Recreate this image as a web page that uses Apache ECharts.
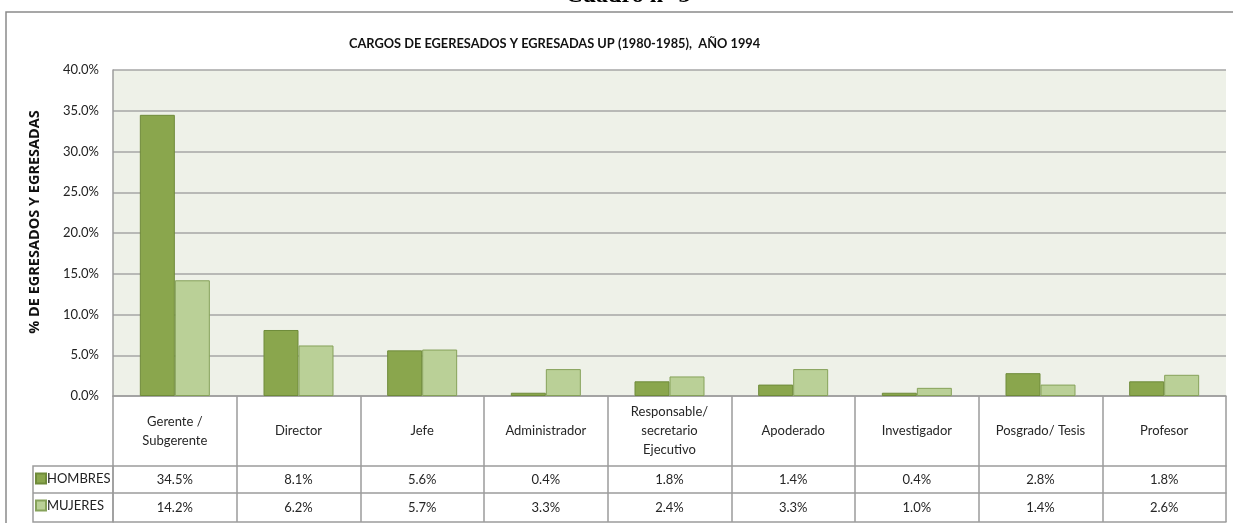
<!DOCTYPE html>
<html>
<head>
<meta charset="utf-8">
<script src="https://cdn.jsdelivr.net/npm/echarts@6/dist/echarts.min.js"></script>
<style>
  html, body { margin: 0; padding: 0; background: #fff; }
  #chart { width: 1233px; height: 523px; }
</style>
</head>
<body>
<div id="chart"></div>
<script>
// datos del cuadro
var categorias = ['Gerente /\nSubgerente', 'Director', 'Jefe', 'Administrador',
  'Responsable/\nsecretario\nEjecutivo', 'Apoderado', 'Investigador', 'Posgrado/ Tesis', 'Profesor'];
var hombres = [34.5, 8.1, 5.6, 0.4, 1.8, 1.4, 0.4, 2.8, 1.8];
var mujeres = [14.2, 6.2, 5.7, 3.3, 2.4, 3.3, 1.0, 1.4, 2.6];
var nombres = ['HOMBRES', 'MUJERES'];

var font = 'Lato';
var lineColor = '#9c9c9c';

function pct(v) {
  return v.toFixed(1) + '%';
}

var chart = echarts.init(document.getElementById('chart'));

var option = {
  backgroundColor: '#fff',
  animation: false,
  textStyle: { fontFamily: font },
  title: {
    text: 'CARGOS DE EGERESADOS Y EGRESADAS UP (1980-1985),  AÑO 1994',
    left: 344,
    top: 32,
    textStyle: { fontFamily: font, fontSize: 12.8, fontWeight: 'bold', color: '#111' }
  },
  legend: {
    data: nombres,
    orient: 'vertical',
    left: 35,
    top: 471,
    padding: 0,
    itemWidth: 10,
    itemHeight: 10,
    itemGap: 12,
    icon: 'rect',
    textStyle: { fontFamily: font, fontSize: 13, lineHeight: 15, color: '#222', padding: [0, 0, 0, -4] }
  },
  grid: {
    left: 113,
    right: 7,
    top: 70,
    bottom: 127,
    show: true,
    backgroundColor: '#eef1e8',
    borderWidth: 0
  },
  xAxis: [
    {
      type: 'category',
      data: categorias,
      position: 'bottom',
      axisLine: { lineStyle: { color: lineColor, width: 1.5 } },
      axisTick: { show: true, interval: 0, length: 126, lineStyle: { color: lineColor, width: 1.5 } },
      axisLabel: {
        interval: 0, margin: 35, verticalAlign: 'middle', lineHeight: 19,
        fontFamily: font, fontSize: 13, color: '#262626'
      }
    },
    {
      type: 'category',
      data: categorias,
      position: 'bottom',
      offset: 70,
      axisLine: { lineStyle: { color: lineColor, width: 1.5 } },
      axisTick: { show: false },
      axisLabel: {
        interval: 0, margin: 14, verticalAlign: 'middle',
        fontFamily: font, fontSize: 13, color: '#262626',
        formatter: function (v, i) { return pct(hombres[i]); }
      }
    },
    {
      type: 'category',
      data: categorias,
      position: 'bottom',
      offset: 97,
      axisLine: { lineStyle: { color: lineColor, width: 1.5 } },
      axisTick: { show: false },
      axisLabel: {
        interval: 0, margin: 15, verticalAlign: 'middle',
        fontFamily: font, fontSize: 13, color: '#262626',
        formatter: function (v, i) { return pct(mujeres[i]); }
      }
    },
    {
      type: 'category',
      data: categorias,
      position: 'bottom',
      offset: 126,
      axisLine: { lineStyle: { color: lineColor, width: 1.5 } },
      axisTick: { show: false },
      axisLabel: { show: false }
    }
  ],
  yAxis: {
    type: 'value',
    min: 0,
    max: 40,
    interval: 5,
    name: '% DE EGRESADOS Y EGRESADAS',
    nameLocation: 'middle',
    nameGap: 71,
    nameRotate: 90,
    nameTextStyle: {
      fontFamily: 'Open Sans', fontSize: 14.5, fontWeight: 'bold', color: '#111',
      padding: [0, 0, 0, 22]
    },
    axisLine: { show: true, lineStyle: { color: lineColor, width: 1.5 } },
    axisTick: { show: false },
    axisLabel: {
      margin: 14, fontFamily: font, fontSize: 13, color: '#222',
      formatter: function (v) { return pct(v); }
    },
    splitLine: { lineStyle: { color: '#a6a6a6', width: 1.5 } }
  },
  series: [
    {
      name: nombres[0],
      type: 'bar',
      data: hombres,
      barWidth: 35,
      barGap: '0%',
      itemStyle: { color: '#8aa64d', borderColor: '#6f8b3a', borderWidth: 1 }
    },
    {
      name: nombres[1],
      type: 'bar',
      data: mujeres,
      barWidth: 35,
      itemStyle: { color: '#bad097', borderColor: '#86a25a', borderWidth: 1 }
    }
  ],
  graphic: [
    // marco exterior
    {
      type: 'rect', silent: true,
      shape: { x: 6, y: 12, width: 1260, height: 540 },
      style: { fill: null, stroke: '#8a8a8a', lineWidth: 1.5 }
    },
    // encabezado cortado del documento
    {
      type: 'text', silent: true,
      x: 628, y: 8,
      style: {
        text: 'Cuadro n° 3', align: 'center', verticalAlign: 'bottom',
        font: 'bold 24px "Liberation Serif"', fill: '#000'
      }
    },
    // columna de la leyenda de la tabla
    {
      type: 'rect', silent: true,
      shape: { x: 33, y: 466, width: 80, height: 56 },
      style: { fill: null, stroke: lineColor, lineWidth: 1.5 }
    },
    {
      type: 'line', silent: true,
      shape: { x1: 33, y1: 493, x2: 113, y2: 493 },
      style: { stroke: lineColor, lineWidth: 1.5 }
    }
  ]
};

chart.setOption(option);
</script>
</body>
</html>
